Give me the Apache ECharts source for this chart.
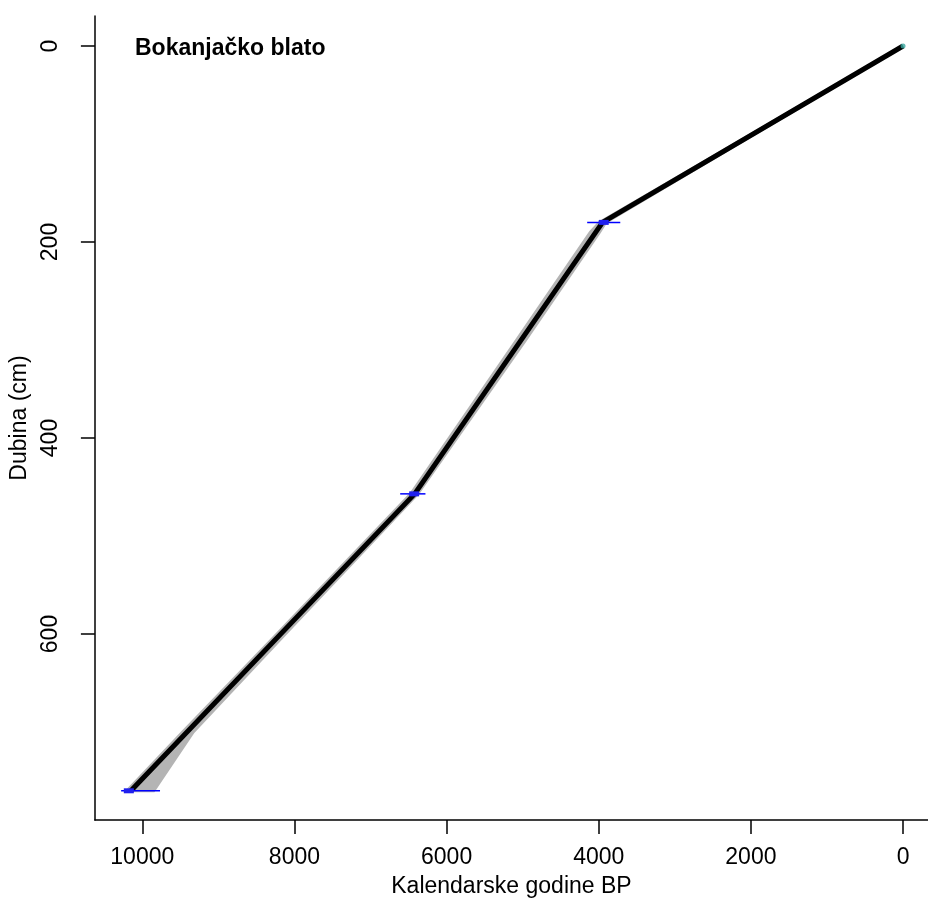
<!DOCTYPE html>
<html>
<head>
<meta charset="utf-8">
<script src="https://cdn.jsdelivr.net/npm/echarts@6/dist/echarts.min.js"></script>
<style>
html,body{margin:0;padding:0;background:#fff;}
#chart{width:928px;height:906px;}
</style>
</head>
<body>
<div id="chart"></div>
<script>
// Age-depth model (mean line)
const modelAge   = [0, 3950, 6420, 10150];
const modelDepth = [0, 180, 457, 760];

// Uncertainty envelope (gray band)
const bandDepth = [0, 180, 190, 300, 457, 600, 700, 760];
const bandOld   = [0, 3990, 4110, 5080, 6470, 8230, 9470, 10200];
const bandYoung = [0, 3910, 3990, 4960, 6380, 8120, 9330, 9850];

// Dated levels: calibrated ranges (blue)
const dateDepth = [180, 457, 760];
const calYoung  = [3717, 6278, 9767];
const calOld    = [4152, 6610, 10278];
const denseYoung = [3869, 6361, 10111];
const denseOld   = [4000, 6492, 10243];

// Surface point
const surfaceAge = [0];
const surfaceDepth = [0];

const xTicks = [0, 2000, 4000, 6000, 8000, 10000];
const yTicks = [0, 200, 400, 600];

const FONT = '"Liberation Sans", Arial, sans-serif';

const lineData = modelAge.map((a, i) => [a, modelDepth[i]]);
const bandData = bandDepth.map((d, i) => [bandOld[i], bandYoung[i], d]);
const dateData = dateDepth.map((d, i) => [calYoung[i], calOld[i], d, denseYoung[i], denseOld[i]]);

const chart = echarts.init(document.getElementById('chart'), null, {renderer: 'canvas'});
chart.setOption({
  backgroundColor: '#ffffff',
  animation: false,
  title: {
    text: 'Bokanjačko blato',
    left: 135, top: 37, padding: 0,
    textStyle: {fontFamily: FONT, fontSize: 23, fontWeight: 'bold', color: '#000'}
  },
  grid: {left: 93, top: 16, right: 0, bottom: 86, containLabel: false},
  xAxis: {
    type: 'value', inverse: true, min: -328, max: 10623, position: 'bottom',
    name: 'Kalendarske godine BP', nameLocation: 'middle', nameGap: 55,
    nameTextStyle: {fontFamily: FONT, fontSize: 23, color: '#000'},
    axisLine: {show: true, onZero: false, lineStyle: {color: '#000', width: 1.5}},
    axisTick: {show: true, length: 14, inside: false, customValues: xTicks, lineStyle: {color: '#000', width: 1.5}},
    axisLabel: {customValues: xTicks, margin: 26, fontFamily: FONT, fontSize: 23, color: '#000',
      formatter: v => String(v)},
    splitLine: {show: false}
  },
  yAxis: {
    type: 'value', inverse: true, min: -30.6, max: 789.8, position: 'left',
    name: 'Dubina (cm)', nameLocation: 'middle', nameGap: 58, nameRotate: 90,
    nameTextStyle: {fontFamily: FONT, fontSize: 23, color: '#000'},
    axisLine: {show: true, onZero: false, lineStyle: {color: '#000', width: 1.5}},
    axisTick: {show: true, length: 14, inside: false, customValues: yTicks, lineStyle: {color: '#000', width: 1.5}},
    axisLabel: {customValues: yTicks, rotate: 90, margin: 33, fontFamily: FONT, fontSize: 23, color: '#000',
      formatter: v => String(v)},
    splitLine: {show: false}
  },
  series: [
    {
      type: 'custom',
      data: [0],
      clip: true,
      renderItem: function (params, api) {
        const pts = [];
        for (let i = 0; i < bandData.length; i++) pts.push(api.coord([bandData[i][0], bandData[i][2]]));
        for (let i = bandData.length - 1; i >= 0; i--) pts.push(api.coord([bandData[i][1], bandData[i][2]]));
        return {type: 'polygon', shape: {points: pts}, style: {fill: '#b4b4b4', stroke: '#b4b4b4', lineWidth: 3}};
      },
      z: 1
    },
    {
      type: 'line',
      data: lineData,
      showSymbol: false,
      lineStyle: {color: '#000', width: 5},
      z: 2
    },
    {
      type: 'custom',
      data: dateData,
      renderItem: function (params, api) {
        const p1 = api.coord([api.value(0), api.value(2)]);
        const p2 = api.coord([api.value(1), api.value(2)]);
        const q1 = api.coord([api.value(3), api.value(2)]);
        const q2 = api.coord([api.value(4), api.value(2)]);
        return {type: 'group', children: [
          {type: 'line', shape: {x1: p1[0], y1: p1[1], x2: p2[0], y2: p2[1]}, style: {stroke: '#0000ff', lineWidth: 1.5}},
          {type: 'line', shape: {x1: q1[0], y1: q1[1], x2: q2[0], y2: q2[1]}, style: {stroke: '#2020ee', lineWidth: 5}}
        ]};
      },
      z: 3
    },
    {
      type: 'scatter',
      data: surfaceAge.map((a, i) => [a, surfaceDepth[i]]),
      symbolSize: 5,
      itemStyle: {color: '#3aa8a0'},
      z: 4
    }
  ]
});
</script>
</body>
</html>
